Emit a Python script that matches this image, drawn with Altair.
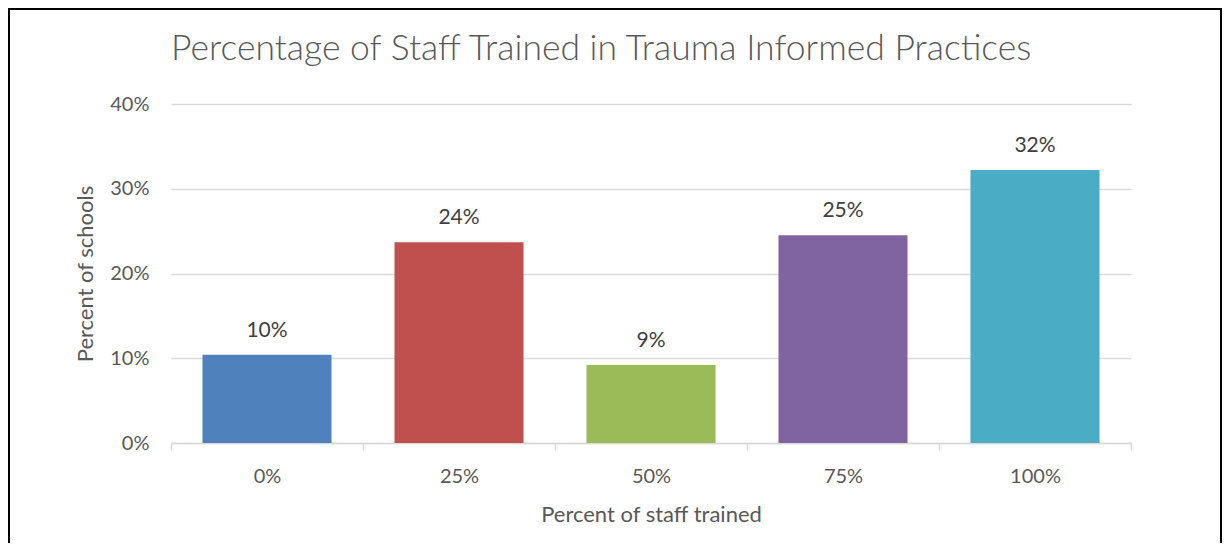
import altair as alt
import pandas as pd

categories = ["0%", "25%", "50%", "75%", "100%"]
values = [10.4, 23.7, 9.2, 24.5, 32.2]
labels = ["10%", "24%", "9%", "25%", "32%"]
colors = ["#4F81BD", "#C0504D", "#9BBB59", "#8064A2", "#4BACC6"]
y_ticks = [0, 10, 20, 30, 40]

df = pd.DataFrame({"cat": categories, "val": [v / 100 for v in values], "label": labels})

FONT = "Lato"
GRID = "#D9D9D9"
TXT = "#595959"

x = alt.X(
    "cat:N", sort=categories, title="Percent of staff trained",
    scale=alt.Scale(paddingInner=0, paddingOuter=0),
    axis=alt.Axis(labelAngle=0, tickBand="extent", ticks=True, tickSize=7, tickColor=GRID,
                  tickWidth=1.5, domainColor=GRID, domainWidth=1.5, labelPadding=16,
                  labelFontSize=20, labelColor=TXT, labelFont=FONT,
                  titleFontSize=22, titleColor=TXT, titleFont=FONT, titleFontWeight="normal",
                  titlePadding=18, grid=False),
)
y = alt.Y(
    "val:Q", title="Percent of schools",
    scale=alt.Scale(domain=[0, 0.4]),
    axis=alt.Axis(values=[t / 100 for t in y_ticks], format=".0%", ticks=False, domain=False,
                  grid=True, gridColor=GRID, gridWidth=1.5, labelPadding=22,
                  labelFontSize=20, labelColor=TXT, labelFont=FONT,
                  titleFontSize=22, titleColor=TXT, titleFont=FONT, titleFontWeight="normal",
                  titlePadding=12),
)

frame = alt.Chart(pd.DataFrame({"f": [0]})).mark_rect(
    fillOpacity=0, stroke="black", strokeWidth=2
).encode(x=alt.value(-162), x2=alt.value(1050), y=alt.value(-95), y2=alt.value(700))

bars = alt.Chart(df).mark_bar(width=alt.RelativeBandSize(0.672)).encode(
    x=x, y=y,
    color=alt.Color("cat:N", scale=alt.Scale(domain=categories, range=colors), legend=None),
)

text = alt.Chart(df).mark_text(
    baseline="alphabetic", dy=-18, fontSize=21, font=FONT, color="#404040"
).encode(x=alt.X("cat:N", sort=categories), y="val:Q", text="label:N")

chart = alt.layer(frame, bars, text).properties(
    width=960, height=339,
    title=alt.Title(
        text="Percentage of  Staff Trained in Trauma Informed Practices",
        anchor="start", frame="group", fontSize=35.5, font=FONT, fontWeight=300,
        color=TXT, baseline="alphabetic", offset=-87,
    ),
    padding={"left": 163, "top": 96, "right": 92, "bottom": 100},
    autosize=alt.AutoSizeParams(type="none"),
).configure_view(strokeWidth=0)

chart.save("out.html", embed_options={"renderer": "svg", "actions": False})
